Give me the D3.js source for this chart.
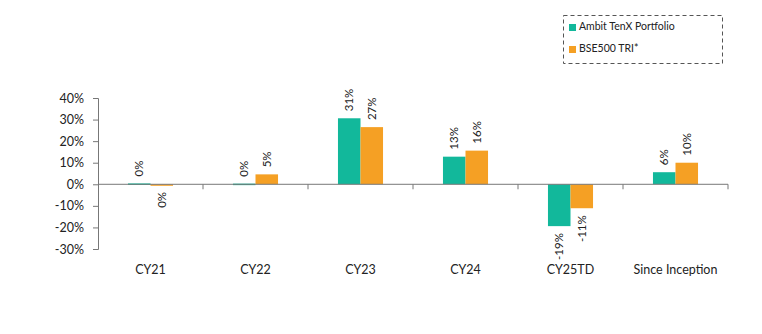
<!DOCTYPE html>
<html>
<head>
<meta charset="utf-8">
<script src="https://cdn.jsdelivr.net/npm/d3@7"></script>
<style>
  body { margin: 0; background: #fff; }
  svg text { font-family: "Lato", "Open Sans", sans-serif; fill: #222; }
</style>
</head>
<body>
<svg id="chart" width="762" height="334"></svg>
<script>
// Calendar-year returns
const categories = ["CY21", "CY22", "CY23", "CY24", "CY25TD", "Since Inception"];
const seriesNames = ["Ambit TenX Portfolio", "BSE500 TRI*"];
const portfolio = [0.004, 0.003, 0.306, 0.128, -0.194, 0.056];
const benchmark = [-0.003, 0.046, 0.265, 0.156, -0.111, 0.100];
const yTicks = [0.4, 0.3, 0.2, 0.1, 0, -0.1, -0.2, -0.3];
const colors = ["#12b89b", "#f5a024"];

const svg = d3.select("#chart");
const plotLeft = 98, plotRight = 728, plotTop = 98, plotBottom = 249;

const x = d3.scaleBand().domain(categories).range([plotLeft, plotRight]).paddingInner(0).paddingOuter(0);
const x1 = d3.scaleBand().domain(seriesNames).range([0, x.bandwidth()]).paddingInner(0).paddingOuter(1.33);
const y = d3.scaleLinear().domain([-0.3, 0.4]).range([plotBottom, plotTop]);
// percent with a plain hyphen for negatives
const pctRaw = d3.format(".0%");
const pct = v => pctRaw(v).replace("\u2212", "-");

// Y axis
const yAxis = d3.axisLeft(y).tickValues(yTicks).tickFormat(pct).tickSize(5).tickPadding(9);
const gy = svg.append("g").attr("transform", `translate(${plotLeft},0)`).call(yAxis);
gy.selectAll("path, line").attr("stroke", "#777");
gy.selectAll("text").attr("font-size", 12.5).style("fill", "#222");

// Bars
const rows = categories.map((c, i) => ({ cat: c, vals: [portfolio[i], benchmark[i]] }));
const groups = svg.append("g").selectAll("g").data(rows).join("g")
  .attr("transform", d => `translate(${x(d.cat)},0)`);

groups.selectAll("rect").data(d => d.vals.map((v, k) => ({ v, k })))
  .join("rect")
  .attr("x", d => x1(seriesNames[d.k]))
  .attr("width", x1.bandwidth())
  .attr("y", d => y(Math.max(0, d.v)))
  .attr("height", d => Math.max(1.5, Math.abs(y(d.v) - y(0))))
  .attr("fill", d => colors[d.k]);

// Value labels, rotated
groups.selectAll("text.val").data(d => d.vals.map((v, k) => ({ v, k })))
  .join("text")
  .attr("class", "val")
  .attr("font-size", 11.5)
  .attr("transform", d => {
    const cx = x1(seriesNames[d.k]) + x1.bandwidth() / 2 + 4;
    const cy = d.v >= 0 ? y(d.v) - 7 : y(d.v) + 7;
    return `translate(${cx},${cy}) rotate(-90)`;
  })
  .attr("text-anchor", d => d.v >= 0 ? "start" : "end")
  .text(d => pct(d.v));

// X axis along zero line with ticks at category boundaries
const gx = svg.append("g");
gx.append("line").attr("x1", plotLeft).attr("x2", plotRight).attr("y1", y(0)).attr("y2", y(0))
  .attr("stroke", "#777");
gx.selectAll("line.tick").data(categories.slice(1).concat(["__end"]))
  .join("line").attr("class", "tick")
  .attr("x1", d => d === "__end" ? plotRight : x(d))
  .attr("x2", d => d === "__end" ? plotRight : x(d))
  .attr("y1", y(0)).attr("y2", y(0) + 5)
  .attr("stroke", "#777");

// Category labels
svg.append("g").selectAll("text").data(categories).join("text")
  .attr("x", d => x(d) + x.bandwidth() / 2)
  .attr("y", 274)
  .attr("text-anchor", "middle")
  .attr("font-size", 12.5)
  .text(d => d);

// Legend
const lg = svg.append("g");
lg.append("rect").attr("x", 563.5).attr("y", 15.5).attr("width", 159).attr("height", 48)
  .attr("fill", "none").attr("stroke", "#555").attr("stroke-dasharray", "4,3");
seriesNames.forEach((s, i) => {
  const yy = 27 + i * 22;
  lg.append("rect").attr("x", 569).attr("y", yy - 3).attr("width", 7).attr("height", 7).attr("fill", colors[i]);
  lg.append("text").attr("x", 579).attr("y", yy + 3).attr("font-size", 10.5).text(s);
});
</script>
</body>
</html>
